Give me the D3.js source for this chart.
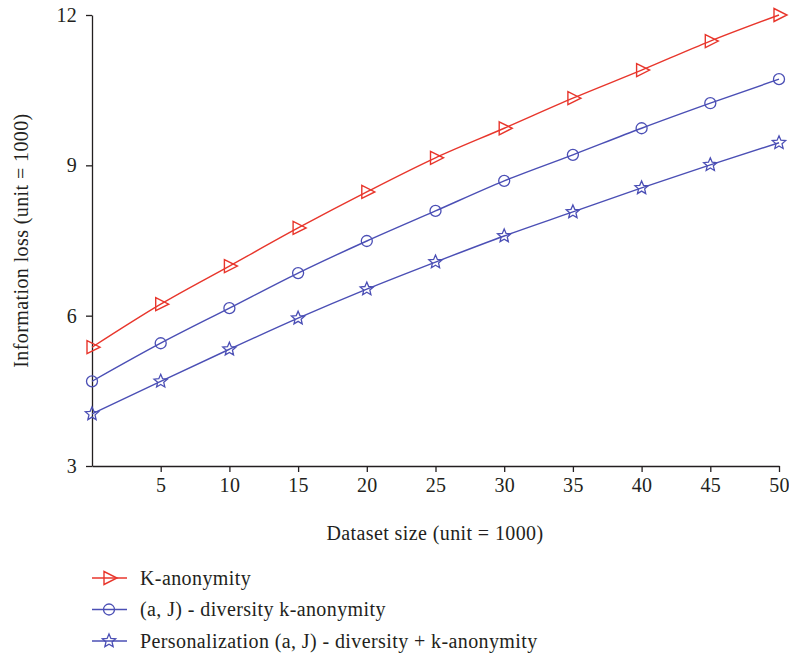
<!DOCTYPE html>
<html>
<head>
<meta charset="utf-8">
<script src="https://cdn.jsdelivr.net/npm/d3@7"></script>
<style>
  body { margin: 0; background: #fff; }
  text { font-family: "Liberation Serif", "DejaVu Serif", serif; fill: #231f20; }
</style>
</head>
<body>
<div id="chart"></div>
<script>
// data
var datasetSize = [0, 5, 10, 15, 20, 25, 30, 35, 40, 45, 50];
var kAnonymity = [5.37, 6.23, 6.99, 7.75, 8.47, 9.15, 9.74, 10.34, 10.90, 11.48, 12.0];
var diversityK = [4.69, 5.45, 6.15, 6.85, 7.49, 8.09, 8.69, 9.21, 9.74, 10.24, 10.72];
var personalization = [4.04, 4.69, 5.33, 5.95, 6.53, 7.07, 7.59, 8.07, 8.55, 9.01, 9.45];
var xTicks = [5, 10, 15, 20, 25, 30, 35, 40, 45, 50];
var yTicks = [3, 6, 9, 12];
var seriesNames = ["K-anonymity", "(a, J) - diversity k-anonymity", "Personalization (a, J) - diversity + k-anonymity"];

var margin = {top: 15, right: 10, bottom: 195, left: 92},
    width = 789 - margin.left - margin.right,
    height = 661 - margin.top - margin.bottom;

var svg = d3.select("#chart").append("svg")
    .attr("width", 789)
    .attr("height", 661);

var g = svg.append("g")
    .attr("transform", "translate(" + margin.left + "," + margin.top + ")");

var x = d3.scaleLinear().domain([0, 50]).range([0, width]);
var y = d3.scaleLinear().domain([3, 12]).range([height, 0]);

var red = "#e8362c", blue = "#4b4fb5";

var series = [
    {name: seriesNames[0], values: kAnonymity, color: red, marker: "triangle"},
    {name: seriesNames[1], values: diversityK, color: blue, marker: "circle"},
    {name: seriesNames[2], values: personalization, color: blue, marker: "star"}
];

// axes
var xAxis = d3.axisBottom(x).tickValues(xTicks).tickSize(6).tickSizeOuter(0).tickPadding(6);
var yAxis = d3.axisLeft(y).tickValues(yTicks).tickSize(6).tickSizeOuter(0).tickPadding(9);

g.append("g")
    .attr("class", "x axis")
    .attr("transform", "translate(0," + height + ")")
    .call(xAxis);

g.append("g")
    .attr("class", "y axis")
    .call(yAxis);

d3.selectAll(".axis path, .axis line")
    .style("stroke", "#231f20")
    .style("stroke-width", 1.3);
d3.selectAll(".axis text")
    .style("font-size", "20px")
    .style("font-family", "Liberation Serif, serif")
    .style("letter-spacing", "0.3px")
    .style("fill", "#231f20");

// axis titles
svg.append("text")
    .attr("x", 435)
    .attr("y", 540)
    .style("text-anchor", "middle")
    .style("font-size", "20px")
    .style("letter-spacing", "0.4px")
    .text("Dataset size (unit = 1000)");

svg.append("text")
    .attr("transform", "translate(28," + (margin.top + height / 2) + ") rotate(-90)")
    .style("text-anchor", "middle")
    .style("font-size", "20px")
    .style("letter-spacing", "0.4px")
    .text("Information loss (unit = 1000)");

var line = d3.line()
    .x(function(d, i) { return x(datasetSize[i]); })
    .y(function(d) { return y(d); })
    .curve(d3.curveMonotoneX);

function drawMarker(sel, type, color) {
    if (type === "circle") {
        sel.append("circle").attr("r", 5.5)
            .style("fill", "none").style("stroke", color).style("stroke-width", 1.3);
    } else if (type === "triangle") {
        sel.append("path").attr("d", "M-5,-6.5L8,0L-5,6.5Z")
            .style("fill", "none").style("stroke", color).style("stroke-width", 1.4);
    } else {
        var pts = [];
        for (var k = 0; k < 10; k++) {
            var r = k % 2 === 0 ? 7 : 3.2;
            var a = -Math.PI / 2 + k * Math.PI / 5;
            pts.push([r * Math.cos(a), r * Math.sin(a)]);
        }
        sel.append("path").attr("d", "M" + pts.join("L") + "Z")
            .style("fill", "none").style("stroke", color).style("stroke-width", 1.3);
    }
}

series.forEach(function(s) {
    g.append("path")
        .datum(s.values)
        .attr("d", line)
        .style("fill", "none")
        .style("stroke", s.color)
        .style("stroke-width", 1.4);

    g.selectAll(null)
        .data(s.values)
        .enter().append("g")
        .attr("transform", function(d, i) { return "translate(" + x(datasetSize[i]) + "," + y(d) + ")"; })
        .each(function() { drawMarker(d3.select(this), s.marker, s.color); });
});

// legend
var legend = svg.append("g").attr("transform", "translate(92,578)");
series.forEach(function(s, i) {
    var row = legend.append("g").attr("transform", "translate(0," + (i * 31.5) + ")");
    row.append("line").attr("x1", 0).attr("x2", 35)
        .style("stroke", s.color).style("stroke-width", 1.4);
    drawMarker(row.append("g").attr("transform", "translate(17,0)"), s.marker, s.color);
    row.append("text")
        .attr("x", 48)
        .attr("y", 0)
        .attr("dy", "0.33em")
        .style("font-size", "20px")
        .style("letter-spacing", "0.4px")
        .text(s.name);
});
</script>
</body>
</html>
